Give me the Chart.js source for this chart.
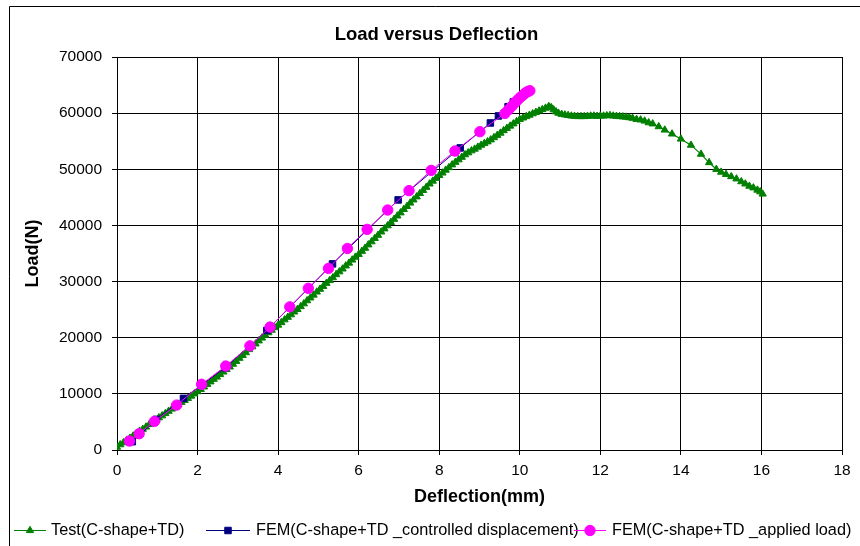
<!DOCTYPE html>
<html><head><meta charset="utf-8">
<script src="https://cdn.jsdelivr.net/npm/chart.js@4"></script>
<style>html,body{margin:0;padding:0;background:#fff;}</style>
</head><body>
<canvas id="c" width="860" height="546"></canvas>
<script>
const chartTitle = 'Load versus Deflection';
const xAxisTitle = 'Deflection(mm)';
const yAxisTitle = 'Load(N)';
const seriesNames = ['Test(C-shape+TD)', 'FEM(C-shape+TD _controlled displacement)', 'FEM(C-shape+TD _applied load)'];
const seriesColors = ['#008000', '#000080', '#FF00FF'];
const xRange = [0, 18, 2];
const yRange = [0, 70000, 10000];

// Test curve (deflection mm, load N)
const testPoints = [
[0,500],[0.08,950],[0.16,1300],[0.24,1750],[0.32,2100],[0.4,2500],[0.48,2950],[0.56,3350],[0.64,3700],[0.72,4100],
[0.8,4550],[0.88,4900],[0.96,5300],[1.04,5750],[1.12,6100],[1.2,6500],[1.28,6900],[1.36,7300],[1.44,7750],[1.52,8100],
[1.6,8500],[1.68,8850],[1.76,9200],[1.84,9600],[1.92,10000],[2,10400],[2.08,10800],[2.16,11250],[2.24,11700],[2.32,12150],
[2.4,12600],[2.48,13000],[2.56,13450],[2.64,13900],[2.72,14350],[2.8,14800],[2.88,15300],[2.96,15800],[3.04,16350],[3.12,16850],
[3.2,17350],[3.28,17900],[3.36,18400],[3.44,18900],[3.52,19450],[3.6,19950],[3.68,20450],[3.76,20900],[3.84,21350],[3.92,21800],
[4,22250],[4.08,22700],[4.16,23200],[4.24,23650],[4.32,24100],[4.4,24600],[4.48,25050],[4.56,25550],[4.64,26050],[4.72,26600],
[4.8,27100],[4.88,27600],[4.96,28150],[5.04,28650],[5.12,29150],[5.2,29700],[5.28,30200],[5.36,30700],[5.44,31250],[5.52,31750],
[5.6,32250],[5.68,32800],[5.76,33300],[5.84,33850],[5.92,34350],[6,34850],[6.08,35400],[6.16,35950],[6.24,36550],[6.32,37100],
[6.4,37700],[6.48,38250],[6.56,38850],[6.64,39400],[6.72,39950],[6.8,40550],[6.88,41100],[6.96,41700],[7.04,42250],[7.12,42850],
[7.2,43400],[7.28,44000],[7.36,44550],[7.44,45100],[7.52,45700],[7.6,46250],[7.68,46800],[7.76,47400],[7.84,47900],[7.92,48400],
[8,48900],[8.08,49350],[8.16,49850],[8.24,50300],[8.32,50800],[8.4,51250],[8.48,51700],[8.56,52150],[8.64,52600],[8.72,52950],
[8.8,53300],[8.88,53600],[8.96,53950],[9.04,54300],[9.12,54600],[9.2,54900],[9.28,55250],[9.36,55650],[9.44,56050],[9.52,56450],
[9.6,56900],[9.68,57300],[9.76,57700],[9.84,58100],[9.92,58500],[10,58900],[10.08,59150],[10.16,59400],[10.24,59650],[10.32,59900],
[10.4,60150],[10.48,60400],[10.56,60650],[10.64,60900],[10.72,61200],[10.78,61000],[10.84,60600],[10.9,60250],[10.96,60000],[11.04,59800],
[11.12,59700],[11.2,59600],[11.28,59500],[11.36,59450],[11.44,59400],[11.52,59400],[11.6,59400],[11.68,59450],[11.76,59500],[11.84,59500],
[11.92,59450],[12,59500],[12.08,59500],[12.16,59550],[12.24,59600],[12.32,59500],[12.4,59450],[12.48,59400],[12.56,59350],[12.64,59300],
[12.72,59200],[12.8,59100],[12.9,58900],[13,58800],[13.1,58600],[13.2,58300],[13.3,58100],[13.45,57600],[13.6,57000],[13.78,56300],
[14,55400],[14.25,54300],[14.5,52700],[14.7,51200],[14.88,50000],[15,49500],[15.12,49100],[15.25,48700],[15.38,48300],[15.5,47800],
[15.6,47400],[15.7,47000],[15.8,46700],[15.9,46300],[15.97,46000],[16.03,45600]
];
// FEM controlled displacement
const femDispPoints = [
[0.38,1480],[0.98,5450],[1.65,9200],[2.68,14650],[3.72,21300],[5.35,33150],[6.98,44540],[8.52,53800],
[9.27,58250],[9.47,59500],[9.71,61150],[9.84,62000],[10.0,62700]
];
// FEM applied load
const femLoadPoints = [
[0.31,1600],[0.55,2900],[0.93,5100],[1.48,8000],[2.1,11700],[2.7,14950],[3.3,18550],[3.8,21900],[4.29,25500],[4.75,28800],
[5.25,32350],[5.72,35900],[6.21,39300],[6.72,42750],[7.25,46200],[7.8,49800],[8.39,53250],[9.01,56700],[9.63,59950],[9.72,60600],
[9.8,61200],[9.87,61800],[9.94,62300],[10.01,62800],[10.08,63200],[10.14,63600],[10.2,63850],[10.25,64000]
];

const FONT = "'Liberation Sans', Arial, sans-serif";
const toXY = pts => pts.map(p => ({x: p[0], y: p[1]}));
const markerStyles = ['triangle', 'rect', 'circle'];
const markerRadius = [4.2, 4.6, 5.2];
// legend: [line start, line end, text start]
const legendSlots = [[14, 46, 51], [206, 250, 256], [574, 606, 612]];

function drawMarker(ctx, style, r, cx, cy, color) {
  ctx.save();
  ctx.fillStyle = color; ctx.strokeStyle = color; ctx.lineWidth = 1;
  ctx.beginPath();
  if (style === 'triangle') {
    ctx.moveTo(cx, cy - r);
    ctx.lineTo(cx + r * 0.866, cy + r * 0.5);
    ctx.lineTo(cx - r * 0.866, cy + r * 0.5);
    ctx.closePath();
  } else if (style === 'rect') {
    const s = r * Math.SQRT1_2;
    ctx.rect(cx - s, cy - s, 2 * s, 2 * s);
  } else {
    ctx.arc(cx, cy, r, 0, Math.PI * 2);
  }
  ctx.fill(); ctx.stroke();
  ctx.restore();
}

const decor = {
  id: 'decor',
  beforeDraw(chart) {
    const ctx = chart.ctx;
    ctx.save();
    ctx.fillStyle = '#fff';
    ctx.fillRect(0, 0, chart.width, chart.height);
    ctx.strokeStyle = '#000'; ctx.lineWidth = 1;
    ctx.beginPath();
    ctx.moveTo(9.5, 560); ctx.lineTo(9.5, 6.5); ctx.lineTo(900, 6.5);
    ctx.stroke();
    ctx.restore();
  },
  afterDraw(chart) {
    const ctx = chart.ctx;
    ctx.save();
    ctx.fillStyle = '#000';
    ctx.font = 'bold 18.5px ' + FONT;
    ctx.textAlign = 'center'; ctx.textBaseline = 'middle';
    ctx.fillText(chartTitle, 436.5, 35);
    // legend
    const ly = 530;
    ctx.font = '16.3px ' + FONT;
    ctx.textAlign = 'left';
    chart.data.datasets.forEach((ds, i) => {
      const [a, b, t] = legendSlots[i];
      ctx.strokeStyle = ds.borderColor; ctx.lineWidth = 1;
      ctx.beginPath(); ctx.moveTo(a, ly + 0.5); ctx.lineTo(b, ly + 0.5); ctx.stroke();
      drawMarker(ctx, markerStyles[i], markerRadius[i], (a + b) / 2, ly + 0.5, ds.borderColor);
      ctx.fillStyle = '#000';
      ctx.fillText(ds.label, t, ly + 1);
    });
    ctx.restore();
  }
};

new Chart(document.getElementById('c'), {
  type: 'scatter',
  data: {
    datasets: [
      {label: seriesNames[0], data: toXY(testPoints), borderColor: seriesColors[0], backgroundColor: seriesColors[0],
       showLine: true, borderWidth: 1.2, pointStyle: 'triangle', pointRadius: markerRadius[0], pointBorderWidth: 1, order: 3},
      {label: seriesNames[1], data: toXY(femDispPoints), borderColor: seriesColors[1], backgroundColor: seriesColors[1],
       showLine: true, borderWidth: 1, pointStyle: 'rect', pointRadius: markerRadius[1], pointBorderWidth: 1, order: 2},
      {label: seriesNames[2], data: toXY(femLoadPoints), borderColor: seriesColors[2], backgroundColor: seriesColors[2],
       showLine: true, borderWidth: 1, pointStyle: 'circle', pointRadius: markerRadius[2], pointBorderWidth: 1, order: 1}
    ]
  },
  options: {
    responsive: false, animation: false, devicePixelRatio: 1,
    layout: {padding: {left: 10, right: 18, top: 57, bottom: 36}},
    plugins: {legend: {display: false}, tooltip: {enabled: false}, title: {display: false}},
    scales: {
      x: {
        type: 'linear', min: xRange[0], max: xRange[1],
        ticks: {stepSize: xRange[2], color: '#000', font: {family: FONT, size: 15.5}, padding: 6, maxRotation: 0,
                callback: v => String(v)},
        grid: {color: '#000', lineWidth: 1, tickLength: 5, drawTicks: true},
        border: {color: '#000', width: 1},
        title: {display: true, text: xAxisTitle, color: '#000', font: {family: FONT, size: 18, weight: 'bold'}, padding: {top: 0, bottom: 2}},
        afterFit(s) { s.height = 60; }
      },
      y: {
        type: 'linear', min: yRange[0], max: yRange[1],
        ticks: {stepSize: yRange[2], color: '#000', font: {family: FONT, size: 15.5}, padding: 10,
                callback: v => String(v)},
        grid: {color: '#000', lineWidth: 1, tickLength: 5, drawTicks: true},
        border: {color: '#000', width: 1},
        title: {display: true, text: yAxisTitle, color: '#000', font: {family: FONT, size: 18, weight: 'bold'}, padding: {top: 12, bottom: 0}},
        afterFit(s) { s.width = 107; }
      }
    }
  },
  plugins: [decor]
});
</script>
</body></html>
